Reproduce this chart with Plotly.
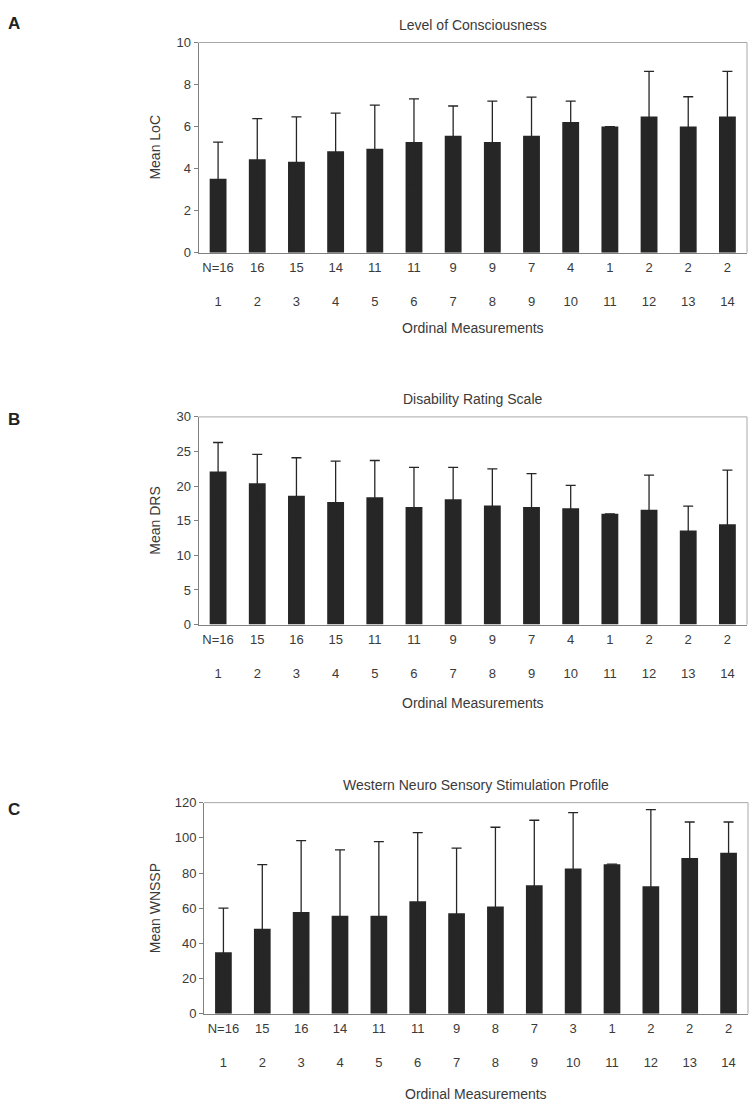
import plotly.graph_objects as go

# Ordinal measurement index (x categories)
ordinal = [1, 2, 3, 4, 5, 6, 7, 8, 9, 10, 11, 12, 13, 14]

# Panel A: Level of Consciousness
loc_n = [16, 16, 15, 14, 11, 11, 9, 9, 7, 4, 1, 2, 2, 2]
loc_mean = [3.52, 4.45, 4.33, 4.83, 4.95, 5.27, 5.56, 5.27, 5.56, 6.22, 6.0, 6.48, 6.0, 6.48]
loc_sd = [1.74, 1.93, 2.13, 1.81, 2.07, 2.05, 1.42, 1.94, 1.84, 0.99, None, 2.15, 1.42, 2.15]

# Panel B: Disability Rating Scale
drs_n = [16, 15, 16, 15, 11, 11, 9, 9, 7, 4, 1, 2, 2, 2]
drs_mean = [22.1, 20.4, 18.6, 17.7, 18.4, 17.0, 18.1, 17.2, 17.0, 16.8, 16.0, 16.6, 13.6, 14.5]
drs_sd = [4.2, 4.2, 5.5, 5.9, 5.3, 5.7, 4.6, 5.3, 4.8, 3.3, None, 5.0, 3.5, 7.8]

# Panel C: Western Neuro Sensory Stimulation Profile
wnssp_n = [16, 15, 16, 14, 11, 11, 9, 8, 7, 3, 1, 2, 2, 2]
wnssp_mean = [35.0, 48.3, 57.9, 55.7, 55.7, 64.0, 57.2, 61.0, 73.0, 82.5, 85.0, 72.5, 88.6, 91.5]
wnssp_sd = [25.0, 36.5, 40.5, 37.4, 42.1, 39.0, 36.9, 45.0, 37.0, 31.8, None, 43.5, 20.4, 17.5]

W, H = 750, 1114
FONT = "Liberation Sans"
TXT = "#3a3a3a"
AX = "#808080"
BAR = "#262626"


def px(x):
    return x / W


def py(y):
    return 1 - y / H


panels = [
    dict(letter="A", title="Level of Consciousness", ytitle="Mean LoC",
         n=loc_n, mean=loc_mean, sd=loc_sd, ymax=10, dtick=2,
         x0=198.5, x1=747, y0=36, y1=249, xt=76, ly=17),
    dict(letter="B", title="Disability Rating Scale", ytitle="Mean DRS",
         n=drs_n, mean=drs_mean, sd=drs_sd, ymax=30, dtick=5,
         x0=198.5, x1=747, y0=415.5, y1=626, xt=79, ly=418),
    dict(letter="C", title="Western Neuro Sensory Stimulation Profile", ytitle="Mean WNSSP",
         n=wnssp_n, mean=wnssp_mean, sd=wnssp_sd, ymax=120, dtick=20,
         x0=204, x1=748, y0=806.5, y1=1020.5, xt=81, ly=813),
]

fig = go.Figure()
annotations = []
shapes = []

for i, p in enumerate(panels, start=1):
    xa = "x" if i == 1 else f"x{i}"
    ya = "y" if i == 1 else f"y{i}"
    xkey = "xaxis" if i == 1 else f"xaxis{i}"
    ykey = "yaxis" if i == 1 else f"yaxis{i}"

    # bars with SD whiskers; the lower half of each whisker shares the bar
    # colour, so only the part above the bar shows
    fig.add_trace(go.Bar(
        x=ordinal, y=p["mean"], xaxis=xa, yaxis=ya,
        marker=dict(color=BAR, line=dict(width=0)),
        width=0.43,
        error_y=dict(type="data", symmetric=True, array=p["sd"],
                     color=BAR, thickness=1.3, width=5),
        showlegend=False,
    ))

    ticktext = []
    for j, (o, n) in enumerate(zip(ordinal, p["n"])):
        top = f"N={n}" if j == 0 else str(n)
        ticktext.append(f"{top}<br><br>{o}")

    fig.layout[xkey] = dict(
        domain=[px(p["x0"]), px(p["x1"])], anchor=ya,
        range=[0.5, 14.5], tickvals=ordinal, ticktext=ticktext,
        showline=True, linecolor=AX, linewidth=1, ticks="",
        ticklabelstandoff=3,
        showgrid=False, zeroline=False, fixedrange=True,
        tickfont=dict(family=FONT, size=13, color=TXT),
    )
    fig.layout[ykey] = dict(
        domain=[py(p["y1"]), py(p["y0"])], anchor=xa,
        range=[0, p["ymax"]], dtick=p["dtick"], tick0=0,
        showline=True, linecolor=AX, linewidth=1,
        ticks="outside", ticklen=4, tickcolor=AX, tickwidth=1,
        showgrid=False, zeroline=False, fixedrange=True,
        tickfont=dict(family=FONT, size=13, color=TXT),
    )

    # light frame along top and right edges of the plot area
    shapes.append(dict(type="line", xref=f"{xa} domain", yref=f"{ya} domain",
                       x0=0, x1=1, y0=1, y1=1, line=dict(color="#a8a8a8", width=1)))
    shapes.append(dict(type="line", xref=f"{xa} domain", yref=f"{ya} domain",
                       x0=1, x1=1, y0=0, y1=1, line=dict(color="#a8a8a8", width=1)))

    cx = (p["x0"] + p["x1"]) / 2
    annotations += [
        dict(text=f"<b>{p['letter']}</b>", x=px(14), y=py(p["ly"]),
             xref="paper", yref="paper", showarrow=False,
             font=dict(family=FONT, size=17, color="#222"), xanchor="center", yanchor="middle"),
        dict(text=p["title"], x=px(cx), y=py(p["y0"] - 18), xref="paper", yref="paper",
             showarrow=False, font=dict(family=FONT, size=14, color=TXT),
             xanchor="center", yanchor="middle"),
        dict(text=p["ytitle"], x=px(155), y=py((p["y0"] + p["y1"]) / 2),
             xref="paper", yref="paper", showarrow=False, textangle=-90,
             font=dict(family=FONT, size=14, color=TXT), xanchor="center", yanchor="middle"),
        dict(text="Ordinal Measurements", x=px(cx), y=py(p["y1"] + p["xt"]),
             xref="paper", yref="paper", showarrow=False,
             font=dict(family=FONT, size=14, color=TXT), xanchor="center", yanchor="middle"),
    ]

fig.update_layout(
    width=W, height=H, margin=dict(l=0, r=0, t=0, b=0),
    paper_bgcolor="white", plot_bgcolor="white",
    bargap=0.57, annotations=annotations, shapes=shapes,
)

fig.write_html("out.html", config={"displayModeBar": False})
